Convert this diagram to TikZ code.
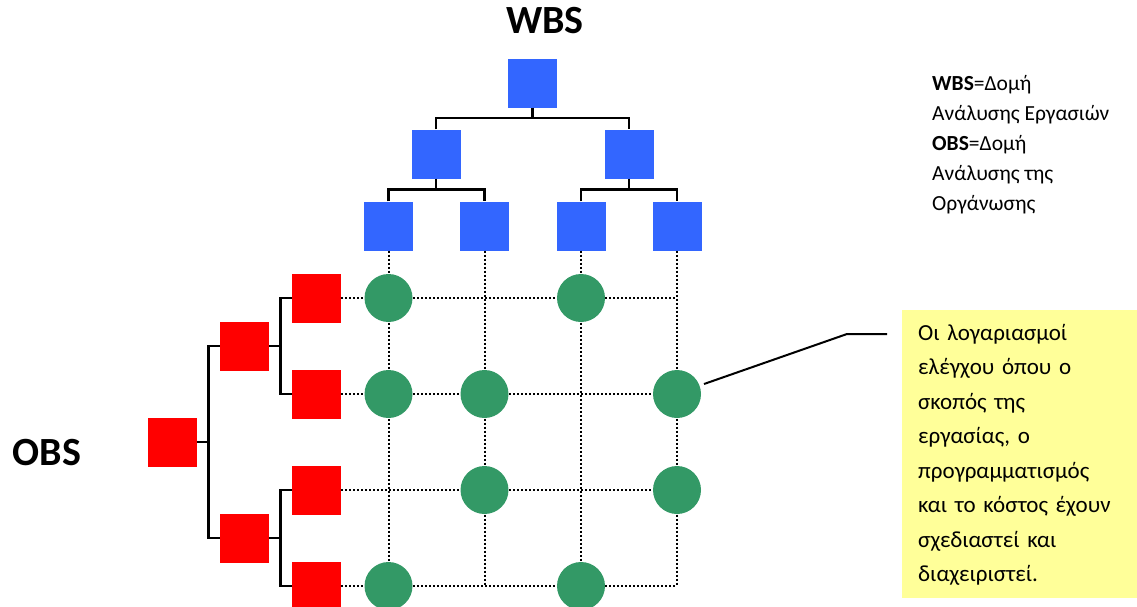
\documentclass[tikz,border=0pt]{standalone}
\usepackage{fontspec}
\setmainfont{Carlito}
\begin{document}
\begin{tikzpicture}[x=1pt,y=-1pt,
  wbsbox/.style={rectangle,fill=wblue,minimum size=49pt,inner sep=0pt},
  obsbox/.style={rectangle,fill=ored,minimum size=49pt,inner sep=0pt},
  account/.style={circle,fill=cgreen,minimum size=48pt,inner sep=0pt},
  tree/.style={draw=black,line width=2.2pt},
  gridline/.style={draw=black,line width=2pt,dash pattern=on 2pt off 2pt},
  leader/.style={draw=black,line width=2pt},
  title/.style={font=\fontsize{40}{48}\selectfont\bfseries,anchor=base,inner sep=0pt}]
\definecolor{wblue}{HTML}{3366FF}
\definecolor{ored}{HTML}{FF0000}
\definecolor{cgreen}{HTML}{339966}
\definecolor{notebg}{HTML}{FFFF99}
\useasboundingbox (0,0) rectangle (1137,606);
\clip (0,0) rectangle (1137,606);

% titles
\node[title] (wbstitle) at (545,33) {WBS};
\node[title] (obstitle) at (47,465) {OBS};

% work breakdown structure
\node[wbsbox] (w0) at (532.5,83) {};
\node[wbsbox] (w1) at (436,154) {};
\node[wbsbox] (w2) at (629,154) {};
\node[wbsbox] (w11) at (388.5,226) {};
\node[wbsbox] (w12) at (484.5,226) {};
\node[wbsbox] (w21) at (581,226) {};
\node[wbsbox] (w22) at (677,226) {};

% organisation breakdown structure
\node[obsbox] (o0) at (172.5,442) {};
\node[obsbox] (o1) at (244.5,346) {};
\node[obsbox] (o2) at (244.5,538) {};
\node[obsbox] (o11) at (316.5,298) {};
\node[obsbox] (o12) at (316.5,394) {};
\node[obsbox] (o21) at (316.5,490) {};
\node[obsbox] (o22) at (316.5,586) {};

% tree connectors
\coordinate (wb0) at (532.5,118);
\coordinate (wb1) at (436,189.5);
\coordinate (wb2) at (629,189.5);
\draw[tree] (w0.south) -- (wb0);
\draw[tree] (w1.north) |- (wb0) -| (w2.north);
\draw[tree] (w1.south) -- (wb1);
\draw[tree] (w11.north) |- (wb1) -| (w12.north);
\draw[tree] (w2.south) -- (wb2);
\draw[tree] (w21.north) |- (wb2) -| (w22.north);

\coordinate (ob0) at (208.5,442);
\coordinate (ob1) at (280.5,346);
\coordinate (ob2) at (280.5,538);
\draw[tree] (o0.east) -- (ob0);
\draw[tree] (o1.west) -| (ob0) |- (o2.west);
\draw[tree] (o1.east) -- (ob1);
\draw[tree] (o11.west) -| (ob1) |- (o12.west);
\draw[tree] (o2.east) -- (ob2);
\draw[tree] (o21.west) -| (ob2) |- (o22.west);

% responsibility matrix
\foreach \r in {o11,o12,o21,o22}
  \draw[gridline] (\r.east) -- (\r.east -| w22);
\foreach \c in {w11,w12,w21,w22}
  \draw[gridline] (\c.south) -- (\c.south |- o22);

% control accounts
\node[account] (c11) at (w11 |- o11) {};
\node[account] (c13) at (w21 |- o11) {};
\node[account] (c21) at (w11 |- o12) {};
\node[account] (c22) at (w12 |- o12) {};
\node[account] (c24) at (w22 |- o12) {};
\node[account] (c32) at (w12 |- o21) {};
\node[account] (c34) at (w22 |- o21) {};
\node[account] (c41) at (w11 |- o22) {};
\node[account] (c43) at (w21 |- o22) {};

% legend
\node[font=\fontsize{21.5}{30}\selectfont,align=left,anchor=north west,inner sep=0pt] (legend) at (932,75)
  {\textbf{WBS}=Δομή\\Ανάλυσης Εργασιών\\\textbf{OBS}=Δομή\\Ανάλυσης της\\Οργάνωσης};

% note
\node[fill=notebg,anchor=north west,minimum width=235pt,minimum height=288pt,inner sep=0pt] (note) at (902,310) {};
\node[text width=210pt,inner sep=0pt,align=left,anchor=north west,
  font=\fontsize{23}{34.5}\selectfont] (notetext) at (918,324)
  {Οι λογαριασμοί\\ελέγχου όπου ο\\σκοπός της\\εργασίας, ο\\προγραμματισμός\\και το κόστος έχουν\\σχεδιαστεί και\\διαχειριστεί.};

\coordinate (k0) at (704,384);
\coordinate (k1) at (847,334);
\coordinate (k2) at (887,334);
\draw[leader] (k0) -- (k1) -- (k2);
\end{tikzpicture}
\end{document}
